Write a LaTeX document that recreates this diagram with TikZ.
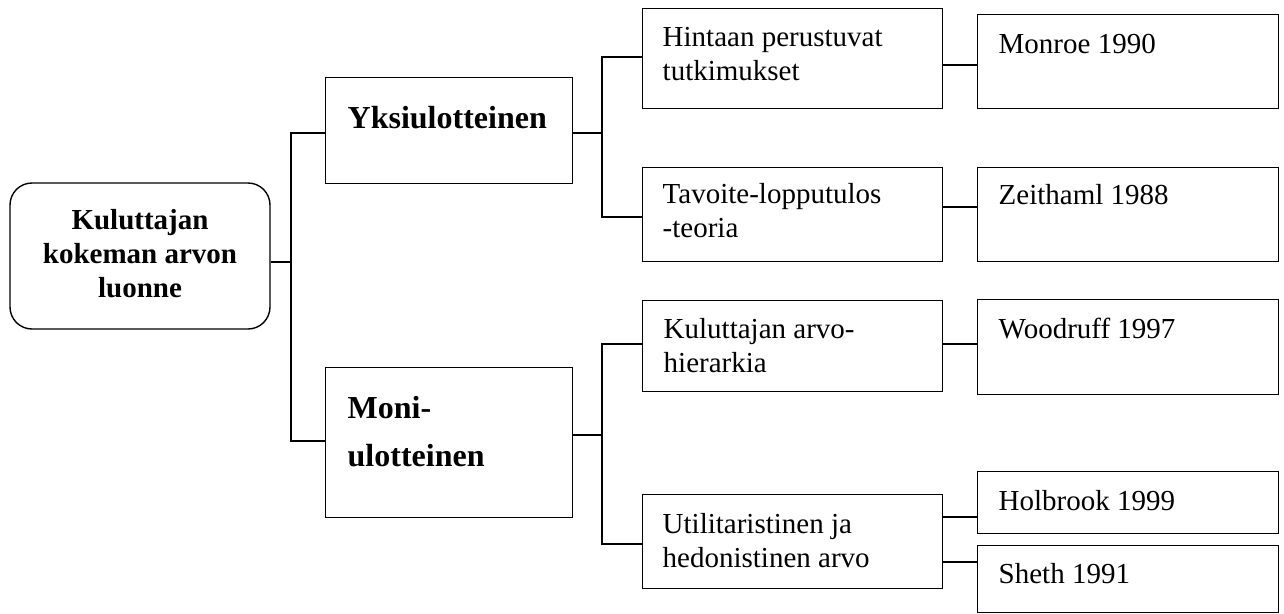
\documentclass[tikz,border=0pt]{standalone}
\usepackage{fontspec}
\setmainfont{Liberation Serif}
\begin{document}
\begin{tikzpicture}[x=1pt,y=-1pt,
  every path/.style={line width=1.4pt},
  box/.style={draw, line width=1.4pt, inner sep=0pt, anchor=north west},
  rootbox/.style={draw, line width=1.4pt, rounded corners=22pt, inner sep=0pt,
    minimum width=260pt, minimum height=146pt},
  roottxt/.style={inner sep=0pt, align=center,
    font=\fontsize{29}{34}\selectfont\bfseries},
  txt/.style={inner sep=0pt, anchor=base west, align=left, font=\fontsize{29}{34}\selectfont},
  bigtxt/.style={inner sep=0pt, anchor=base west, align=left, font=\fontsize{32}{48}\selectfont\bfseries}
]
\useasboundingbox (0,0) rectangle (1284,613);

% root
\node[rootbox] (root) at (140,256) {};
\node[roottxt] (root-t) at (140,254) {Kuluttajan\\kokeman arvon\\luonne};

% second level (text nodes are placed on the baseline of their last line)
\node[box, minimum width=247pt, minimum height=106pt] (yksi) at (325,77) {};
\node[bigtxt] (yksi-t) at (347,128) {Yksiulotteinen};
\node[box, minimum width=247pt, minimum height=150pt] (moni) at (325,367) {};
\node[bigtxt] (moni-t) at (347,466) {Moni-\\ulotteinen};

% third level
\node[box, minimum width=300pt, minimum height=100pt] (hint) at (642,8) {};
\node[txt] (hint-t) at (662,80) {Hintaan perustuvat\\tutkimukset};
\node[box, minimum width=300pt, minimum height=94pt] (tavo) at (642,167) {};
\node[txt] (tavo-t) at (662,237) {Tavoite-lopputulos\\-teoria};
\node[box, minimum width=300pt, minimum height=91pt] (kuar) at (642,300) {};
\node[txt] (kuar-t) at (663,372) {Kuluttajan arvo-\\hierarkia};
\node[box, minimum width=300pt, minimum height=94pt] (util) at (642,494) {};
\node[txt] (util-t) at (662,567) {Utilitaristinen ja\\hedonistinen arvo};

% references
\node[box, minimum width=301pt, minimum height=94pt] (monr) at (977,14) {};
\node[txt] (monr-t) at (998,53) {Monroe 1990};
\node[box, minimum width=301pt, minimum height=94pt] (zeit) at (977,167) {};
\node[txt] (zeit-t) at (998,204) {Zeithaml 1988};
\node[box, minimum width=301pt, minimum height=95pt] (wood) at (977,299) {};
\node[txt] (wood-t) at (998,338) {Woodruff 1997};
\node[box, minimum width=301pt, minimum height=62pt] (holb) at (977,471) {};
\node[txt] (holb-t) at (998,510) {Holbrook 1999};
\node[box, minimum width=301pt, minimum height=67pt] (shet) at (977,545) {};
\node[txt] (shet-t) at (998,583) {Sheth 1991};

% junction points
\coordinate (r0) at (291,262);
\coordinate (r1) at (291,133);
\coordinate (r2) at (291,441);
\coordinate (y0) at (602,133);
\coordinate (y1) at (602,57);
\coordinate (y2) at (602,217);
\coordinate (m0) at (602,435);
\coordinate (m1) at (602,344);
\coordinate (m2) at (602,544);
\coordinate (l1) at (960,65);
\coordinate (l2) at (960,207);
\coordinate (l3) at (960,344);
\coordinate (l4) at (960,517);
\coordinate (l5) at (960,562);

% connectors
\draw (r0 -| root.east) -- (r0);
\draw (r1 -| yksi.west) -- (r1) -- (r2) -- (r2 -| moni.west);
\draw (y0 -| yksi.east) -- (y0);
\draw (y1 -| hint.west) -- (y1) -- (y2) -- (y2 -| tavo.west);
\draw (m0 -| moni.east) -- (m0);
\draw (m1 -| kuar.west) -- (m1) -- (m2) -- (m2 -| util.west);
\draw (l1 -| hint.east) -- (l1 -| monr.west);
\draw (l2 -| tavo.east) -- (l2 -| zeit.west);
\draw (l3 -| kuar.east) -- (l3 -| wood.west);
\draw (l4 -| util.east) -- (l4 -| holb.west);
\draw (l5 -| util.east) -- (l5 -| shet.west);
\end{tikzpicture}
\end{document}
